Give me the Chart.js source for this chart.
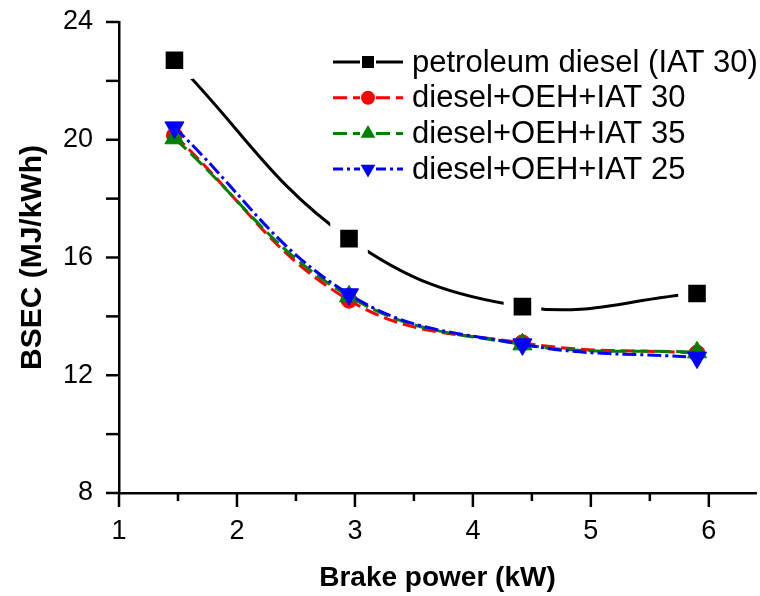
<!DOCTYPE html>
<html>
<head>
<meta charset="utf-8">
<script src="https://cdn.jsdelivr.net/npm/chart.js@4/dist/chart.umd.min.js"></script>
<style>
  html, body { margin: 0; padding: 0; background: #ffffff; }
  canvas { display: block; }
</style>
</head>
<body>
<canvas id="bsec" width="760" height="596"></canvas>
<script>
// Brake specific energy consumption vs. brake power
const brakePower = [1.47, 2.95, 4.42, 5.90];
const petroleumDiesel = [22.70, 16.64, 14.33, 14.78];
const oehIat30 = [20.15, 14.55, 13.10, 12.75];
const oehIat35 = [20.05, 14.68, 13.05, 12.78];
const oehIat25 = [20.42, 14.75, 13.05, 12.60];
const seriesNames = ['petroleum diesel (IAT 30)', 'diesel+OEH+IAT 30', 'diesel+OEH+IAT 35', 'diesel+OEH+IAT 25'];
const xTitle = 'Brake power (kW)';
const yTitle = 'BSEC (MJ/kWh)';

const FONT = "'Liberation Sans', Arial, sans-serif";

function toPoints(values) {
  return brakePower.map((x, i) => ({ x: x, y: values[i] }));
}

// Outward tick marks: long at labelled x values, short in between
const axisTicks = {
  id: 'axisTicks',
  afterDraw(chart) {
    const { ctx } = chart;
    const xs = chart.scales.x, ys = chart.scales.y;
    ctx.save();
    ctx.strokeStyle = '#000';
    ctx.lineWidth = 2.5;
    ctx.setLineDash([]);
    xs.ticks.forEach(t => {
      const px = xs.getPixelForValue(t.value);
      const major = Math.abs(t.value - Math.round(t.value)) < 1e-6;
      ctx.beginPath();
      ctx.moveTo(px, xs.top);
      ctx.lineTo(px, xs.top + (major ? 14 : 8));
      ctx.stroke();
    });
    ys.ticks.forEach(t => {
      const py = ys.getPixelForValue(t.value);
      ctx.beginPath();
      ctx.moveTo(ys.right, py);
      ctx.lineTo(ys.right - 13, py);
      ctx.stroke();
    });
    ctx.restore();
  }
};

// Legend with a line sample through each marker
const lineLegend = {
  id: 'lineLegend',
  afterDraw(chart) {
    const { ctx } = chart;
    const x0 = 333, xm = 368, x1 = 403, textX = 412;
    const rowTop = 62, rowGap = 35.7;
    const markerRadius = [8.5, 7, 8.5, 8.5];
    chart.data.datasets.forEach((ds, i) => {
      const cy = rowTop + i * rowGap;
      ctx.save();
      ctx.strokeStyle = ds.borderColor;
      ctx.lineWidth = 3;
      ctx.setLineDash(ds.legendDash || []);
      ctx.beginPath();
      ctx.moveTo(x0, cy);
      ctx.lineTo(xm - 8, cy);
      ctx.stroke();
      ctx.beginPath();
      ctx.moveTo(xm + 8, cy);
      ctx.lineTo(x1, cy);
      ctx.stroke();
      ctx.setLineDash([]);
      ctx.fillStyle = ds.borderColor;
      Chart.helpers.drawPoint(ctx, {
        pointStyle: ds.pointStyle,
        rotation: ds.pointRotation || 0,
        radius: markerRadius[i],
        borderWidth: 0
      }, xm, cy);
      ctx.fillStyle = '#000';
      ctx.font = '31px ' + FONT;
      ctx.textBaseline = 'middle';
      ctx.textAlign = 'left';
      ctx.fillText(seriesNames[i], textX, cy + 1);
      ctx.restore();
    });
  }
};

const datasets = [
  {
    label: seriesNames[0],
    data: toPoints(petroleumDiesel),
    borderColor: '#000000',
    borderWidth: 3,
    pointStyle: 'rect',
    // white outline leaves a small gap between the curve and each square
    pointBackgroundColor: '#000000',
    pointBorderColor: '#ffffff',
    pointBorderWidth: 10,
    pointRadius: 19.5,
    order: 3
  },
  {
    label: seriesNames[1],
    data: toPoints(oehIat30),
    borderColor: '#ff0000',
    pointBackgroundColor: '#ff0000',
    pointBorderColor: '#ff0000',
    pointBorderWidth: 1,
    borderWidth: 3,
    borderDash: [14, 6],
    legendDash: [14, 6],
    pointStyle: 'circle',
    pointRadius: 8,
    order: 2
  },
  {
    label: seriesNames[2],
    data: toPoints(oehIat35),
    borderColor: '#008000',
    pointBackgroundColor: '#008000',
    pointBorderColor: '#008000',
    pointBorderWidth: 1,
    borderWidth: 3,
    borderDash: [16, 6],
    legendDash: [14, 6],
    pointStyle: 'triangle',
    pointRadius: 11,
    order: 1
  },
  {
    label: seriesNames[3],
    data: toPoints(oehIat25),
    borderColor: '#0000ff',
    pointBackgroundColor: '#0000ff',
    pointBorderColor: '#0000ff',
    pointBorderWidth: 1,
    borderWidth: 3,
    borderDash: [14, 4, 3, 4],
    legendDash: [10, 4, 3, 4],
    pointStyle: 'triangle',
    pointRotation: 180,
    pointRadius: 11,
    order: 0
  }
];

new Chart(document.getElementById('bsec'), {
  type: 'line',
  data: { datasets: datasets },
  options: {
    responsive: false,
    devicePixelRatio: 1,
    animation: false,
    events: [],
    layout: { autoPadding: false, padding: { left: 10, right: 4, top: 22, bottom: 0 } },
    elements: {
      line: { tension: 0.4, fill: false }
    },
    plugins: {
      legend: { display: false },
      tooltip: { enabled: false }
    },
    scales: {
      x: {
        type: 'linear',
        min: 1,
        max: 6.4,
        afterFit(scale) {
          scale.height = 103;
          scale.paddingLeft = 0;
          scale.paddingRight = 0;
        },
        border: { display: true, color: '#000', width: 2.5 },
        grid: { display: true, drawOnChartArea: false, drawTicks: true, tickLength: 14, color: 'rgba(0,0,0,0)' },
        ticks: {
          stepSize: 0.5,
          includeBounds: false,
          autoSkip: false,
          maxRotation: 0,
          padding: 8,
          color: '#000',
          font: { family: FONT, size: 27 },
          callback: v => (Math.abs(v - Math.round(v)) < 1e-6 ? String(Math.round(v)) : '')
        },
        title: {
          display: true,
          text: xTitle,
          color: '#000',
          font: { family: FONT, size: 28, weight: 'bold' },
          padding: { top: 0, bottom: 1 }
        }
      },
      y: {
        type: 'linear',
        min: 8,
        max: 24,
        afterFit(scale) {
          scale.width = 109;
          scale.paddingTop = 0;
          scale.paddingBottom = 0;
        },
        border: { display: true, color: '#000', width: 2.5 },
        grid: { display: true, drawOnChartArea: false, drawTicks: true, tickLength: 12, color: 'rgba(0,0,0,0)' },
        ticks: {
          stepSize: 2,
          autoSkip: false,
          padding: 14,
          color: '#000',
          font: { family: FONT, size: 27 },
          callback: v => (v % 4 === 0 ? String(v) : '')
        },
        title: {
          display: true,
          text: yTitle,
          color: '#000',
          font: { family: FONT, size: 30, weight: 'bold' },
          padding: { top: 5, bottom: 0 }
        }
      }
    }
  },
  plugins: [axisTicks, lineLegend]
});
</script>
</body>
</html>
